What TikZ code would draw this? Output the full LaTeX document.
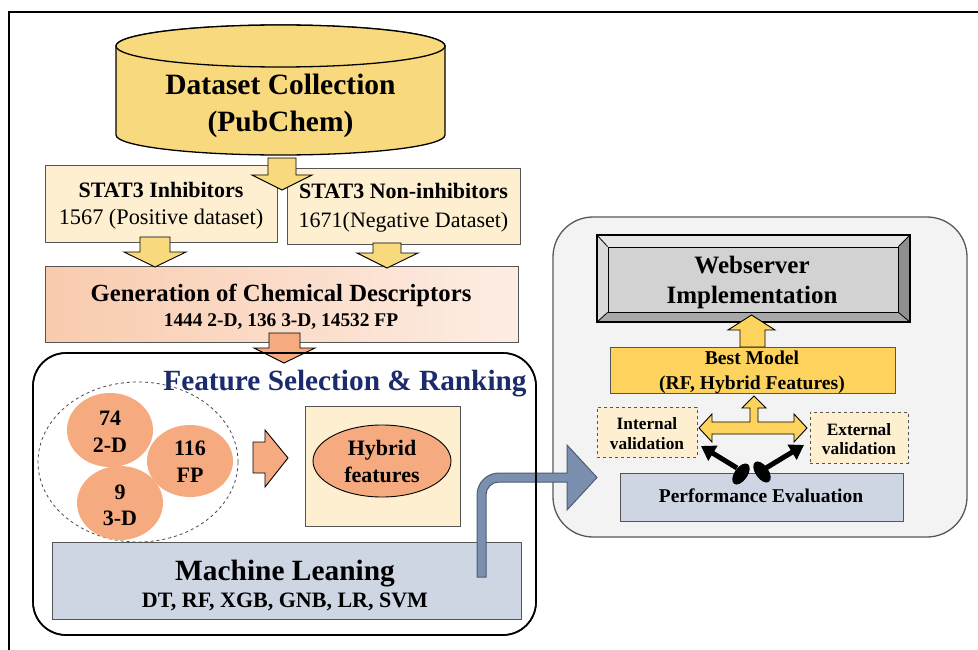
\documentclass[tikz,border=0pt]{standalone}
\usepackage{fontspec}
\setmainfont{Liberation Serif}
\usetikzlibrary{shapes.geometric,arrows.meta}
\definecolor{cylY}{HTML}{F9D97E}
\definecolor{cream}{HTML}{FDEFCF}
\definecolor{salmonL}{HTML}{F9CBAE}
\definecolor{salmonM}{HTML}{F8B999}
\definecolor{salmonR}{HTML}{FDEDE4}
\definecolor{orng}{HTML}{F6AA80}
\definecolor{navy}{HTML}{1B2B6B}
\definecolor{mlblue}{HTML}{CED6E4}
\definecolor{panel}{HTML}{F3F3F3}
\definecolor{steel}{HTML}{7B90AE}
\definecolor{steelD}{HTML}{4C5C76}
\definecolor{gold}{HTML}{FDD35E}
\definecolor{boxline}{HTML}{555555}
\definecolor{wsTop}{HTML}{E6E6E6}
\definecolor{wsLeft}{HTML}{DADADA}
\definecolor{wsBot}{HTML}{A8A8A8}
\definecolor{wsRight}{HTML}{8E8E8E}
\definecolor{wsFace}{HTML}{D2D2D2}
\newcommand\fz[1]{\fontsize{#1}{#1}\selectfont\bfseries}
\newcommand\fr[1]{\fontsize{#1}{#1}\selectfont}
\begin{document}
\begin{tikzpicture}[x=1pt,y=-1pt,
  rbox/.style={rectangle, inner sep=0pt, line width=0.9pt},
  lbl/.style={anchor=base, inner sep=0pt},
  blk/.style={line width=0.9pt, draw=black, line join=miter},
  orb/.style={ellipse, fill=orng, inner sep=0pt},
]
\useasboundingbox (0,0) rectangle (978,650);
\fill[white] (0,0) rectangle (978,650);
\draw[line width=2pt] (9,650) -- (9,12) -- (978,12);

% ---- cylinder
\draw[fill=cylY, line width=1.3pt] (116,46) -- (116,135)
  arc[start angle=180,end angle=360,x radius=164.5pt,y radius=20pt]
  -- (445,46) arc[start angle=0,end angle=180,x radius=164.5pt,y radius=21pt] -- cycle;
\draw[fill=cylY, line width=1.3pt] (280.5,46) ellipse [x radius=164.5pt, y radius=21pt];
\node[lbl, font=\fz{29.5}] (dc1) at (280.5,95) {Dataset Collection};
\node[lbl, font=\fz{29.5}] (dc2) at (280.5,132) {(PubChem)};

% ---- STAT3 boxes
\node[rbox, draw=boxline, fill=cream, minimum width=232pt, minimum height=77pt] (inh) at (161,203.5) {};
\node[rbox, draw=boxline, fill=cream, minimum width=233pt, minimum height=76pt] (non) at (403.5,206) {};
\node[lbl, font=\fz{22}] (inh1) at (161,197) {STAT3 Inhibitors};
\node[lbl, font=\fr{22.3}] (inh2) at (161,225) {1567 (Positive dataset)};
\node[lbl, font=\fz{22}] (non1) at (403.5,199) {STAT3 Non-inhibitors};
\node[lbl, font=\fr{22}] (non2) at (403.5,227) {1671(Negative Dataset)};

% ---- generation box
\node[rbox, draw=boxline, left color=salmonL, middle color=salmonM, right color=salmonR,
      minimum width=473pt, minimum height=76pt] (gen) at (281.5,304) {};
\node[lbl, font=\fz{24.7}] (gen1) at (281,301) {Generation of Chemical Descriptors};
\node[lbl, font=\fz{19.4}] (gen2) at (281,326) {1444 2-D, 136 3-D, 14532 FP};

% ---- yellow block arrows
\draw[blk, fill=cylY] (268,158) -- (296,158) -- (296,175) -- (312,175) -- (282,190) -- (252,175) -- (268,175) -- cycle;
\draw[blk, fill=cylY] (140,237) -- (170,237) -- (170,252) -- (186,252) -- (155,267) -- (124,252) -- (140,252) -- cycle;
\draw[blk, fill=cylY] (373,243) -- (401,243) -- (401,253) -- (418,253) -- (387,268) -- (357,253) -- (373,253) -- cycle;

% ---- feature selection box
\node[rbox, draw=black, line width=1.6pt, fill=white, rounded corners=33pt,
      minimum width=503pt, minimum height=282pt] (fsr) at (284.5,494) {};
\draw[blk, fill=orng] (269,333) -- (300,333) -- (300,348) -- (315,348) -- (284,363) -- (254,348) -- (269,348) -- cycle;
\node[lbl, font=\fz{29.3}, text=navy] (fsrT) at (345,390) {Feature Selection \& Ranking};

% ---- machine learning
\node[rbox, draw=boxline, fill=mlblue, minimum width=469pt, minimum height=77pt] (ml) at (286.5,580.5) {};
\node[lbl, font=\fz{29.4}] (ml1) at (285,580) {Machine Leaning};
\node[lbl, font=\fz{22}] (ml2) at (285,607) {DT, RF, XGB, GNB, LR, SVM};

% ---- feature circles
\node[ellipse, draw=gray!60!black, dashed, line width=0.8pt, minimum width=200pt, minimum height=160pt, inner sep=0pt] (grp) at (138,462) {};
\node[orb, minimum width=86pt, minimum height=74pt] (c2d) at (110,430) {};
\node[orb, minimum width=86pt, minimum height=72pt] (cfp) at (190,461) {};
\node[orb, minimum width=86pt, minimum height=74pt] (c3d) at (120,503) {};
\node[lbl, font=\fz{22}] (t74) at (110,425) {74};
\node[lbl, font=\fz{22}] (t2d) at (110,452) {2-D};
\node[lbl, font=\fz{22}] (t116) at (190,455) {116};
\node[lbl, font=\fz{22}] (tfp) at (190,482) {FP};
\node[lbl, font=\fz{22}] (t9) at (120,499) {9};
\node[lbl, font=\fz{22}] (t3d) at (120,525) {3-D};
\draw[blk, fill=orng] (253,442) -- (265,442) -- (265,430) -- (288,458) -- (265,487) -- (265,473) -- (253,473) -- cycle;

% ---- hybrid
\node[rbox, draw=boxline, fill=cream, minimum width=155pt, minimum height=120pt] (hyb) at (382.5,466) {};
\node[ellipse, draw=black, line width=0.9pt, fill=orng, minimum width=138pt, minimum height=72pt, inner sep=0pt] (hybE) at (382,461) {};
\node[lbl, font=\fz{22}] (hy1) at (382,455) {Hybrid};
\node[lbl, font=\fz{22}] (hy2) at (382,482) {features};

% ---- right panel
\node[rbox, draw=black!65, fill=panel, line width=1.3pt, rounded corners=40pt,
      minimum width=414pt, minimum height=320pt] (pan) at (760,377) {};

% ---- blue bent arrow
\draw[fill=steel, draw=steelD, line width=1pt, line join=miter]
  (477,577) -- (477,495) .. controls (477,482.85) and (486.85,473) .. (499,473)
  -- (567,473) -- (567,445) -- (597,477.5) -- (567,510) -- (567,482) -- (499,482)
  .. controls (491.8,482) and (486,487.8) .. (486,495) -- (486,577) -- cycle;
\draw[line width=1.6pt, rounded corners=33pt] (33,353) rectangle (536,635);

% ---- webserver bevel box
\fill[wsTop] (597,235) -- (910,235) -- (898,247) -- (608,247) -- cycle;
\fill[wsLeft] (597,235) -- (608,247) -- (608,312) -- (597,322) -- cycle;
\fill[wsBot] (597,322) -- (608,312) -- (898,312) -- (910,322) -- cycle;
\fill[wsRight] (910,235) -- (898,247) -- (898,312) -- (910,322) -- cycle;
\node[rbox, fill=wsFace, draw=black, line width=0.8pt, minimum width=290pt, minimum height=65pt] (wsi) at (753,279.5) {};
\node[rbox, draw=black, line width=1.2pt, minimum width=313pt, minimum height=87pt] (ws) at (753.5,278.5) {};
\draw[line width=0.8pt] (ws.north west) -- (wsi.north west) (ws.north east) -- (wsi.north east)
  (ws.south west) -- (wsi.south west) (ws.south east) -- (wsi.south east);
\node[lbl, font=\fz{25}] (ws1) at (752,273) {Webserver};
\node[lbl, font=\fz{25}] (ws2) at (752,303) {Implementation};

% ---- best model
\draw[blk, fill=gold] (740,347) -- (740,330) -- (728,330) -- (751.5,315) -- (775,330) -- (765,330) -- (765,347) -- cycle;
\node[rbox, draw=boxline, fill=gold, minimum width=285pt, minimum height=46pt] (bm) at (752.5,370) {};
\node[lbl, font=\fz{19.6}] (bm1) at (752,364) {Best Model};
\node[lbl, font=\fz{19.6}] (bm2) at (752,389) {(RF, Hybrid Features)};

% ---- validation boxes
\node[rbox, draw=boxline, dashed, fill=cream, minimum width=100pt, minimum height=50pt] (iv) at (647,432) {};
\node[lbl, font=\fz{17.3}] (iv1) at (647,429) {Internal};
\node[lbl, font=\fz{17.3}] (iv2) at (647,449) {validation};
\node[rbox, draw=boxline, dashed, fill=cream, minimum width=98pt, minimum height=51pt] (ev) at (859,437.5) {};
\node[lbl, font=\fz{17.3}] (ev1) at (859,435) {External};
\node[lbl, font=\fz{17.3}] (ev2) at (859,454) {validation};

% ---- T arrow
\draw[blk, fill=gold] (699,428) -- (712,414) -- (712,422) -- (750,422) -- (750,408) -- (742,408)
  -- (754,396) -- (766,408) -- (758,408) -- (758,422) -- (794,422) -- (794,414) -- (807,428)
  -- (794,442) -- (794,434) -- (712,434) -- (712,442) -- cycle;

% ---- performance
\node[rbox, draw=boxline, fill=mlblue, minimum width=283pt, minimum height=48pt] (pe) at (761.5,497) {};
\node[lbl, font=\fz{19.5}] (pe1) at (761,502) {Performance Evaluation};

% ---- black arrows
\draw[line width=5pt, -{Triangle[length=14pt,width=17pt]}] (737,468) -- (701,446);
\draw[line width=5pt, -{Triangle[length=14pt,width=17pt]}] (766,468) -- (804,445);
\fill[rotate around={55:(741,474)}] (741,474) ellipse [x radius=12pt, y radius=6.5pt];
\fill[rotate around={-55:(762,472)}] (762,472) ellipse [x radius=12pt, y radius=6.5pt];
\end{tikzpicture}
\end{document}
